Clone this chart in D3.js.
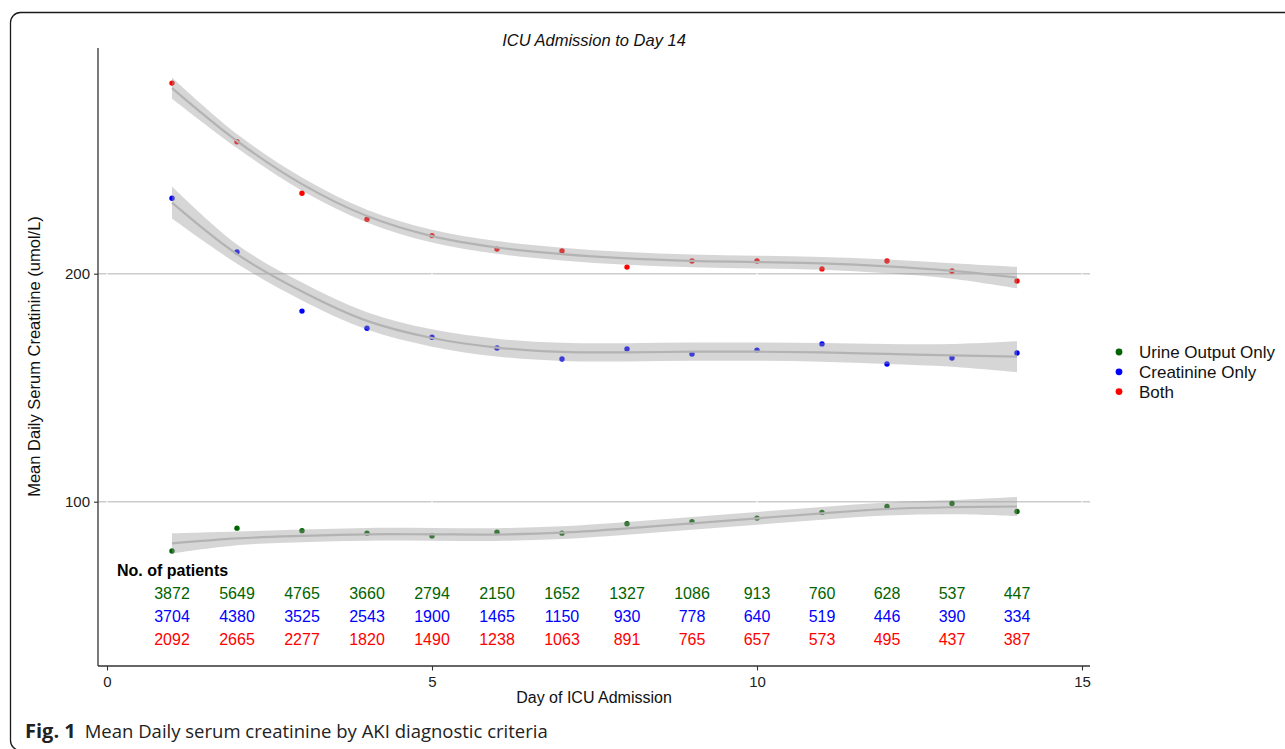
<!DOCTYPE html>
<html>
<head>
<meta charset="utf-8">
<script src="https://cdn.jsdelivr.net/npm/d3@7"></script>
<style>
  body { margin: 0; background: #fff; }
  svg { display: block; }
</style>
</head>
<body>
<div id="chart"></div>
<script>
const width = 1285,
  height = 749;

// DATA
const days = [1, 2, 3, 4, 5, 6, 7, 8, 9, 10, 11, 12, 13, 14];
const groups = ["Urine Output Only", "Creatinine Only", "Both"];
const colors = ["#006400", "#0000ff", "#ff0000"];

// mean daily serum creatinine
const urineMeans = [78.4, 88.4, 87.3, 86.2, 85.0, 86.6, 86.2, 90.3, 91.2, 92.8, 95.3, 97.9, 99.2, 95.7];
const creatMeans = [233.1, 209.5, 183.6, 176.1, 172.1, 167.4, 162.6, 167.0, 164.8, 166.5, 169.2, 160.4, 163.0, 165.2];
const bothMeans  = [283.6, 257.9, 235.3, 223.9, 216.7, 210.8, 210.0, 202.9, 205.6, 205.6, 202.1, 205.6, 201.2, 196.8];

// loess fit and half width of the ribbon
const urineFit = [81.7, 83.9, 85.0, 85.7, 85.7, 85.6, 86.4, 88.3, 90.5, 92.7, 94.9, 96.8, 97.6, 97.9];
const creatFit = [231.2, 208.6, 192.2, 179.3, 171.8, 167.6, 165.7, 165.5, 165.8, 165.8, 165.5, 164.8, 164.2, 163.6];
const bothFit  = [281.4, 258.2, 239.3, 225.3, 216.5, 211.5, 208.6, 206.7, 205.6, 205.1, 204.5, 203.2, 201.2, 198.3];
const urineSe = [4.4, 3.0, 2.8, 2.8, 2.8, 2.8, 2.8, 2.8, 2.8, 2.8, 2.8, 2.9, 3.1, 4.2];
const creatSe = [7.0, 4.2, 3.9, 3.8, 3.8, 3.9, 4.0, 4.0, 4.0, 4.0, 4.1, 4.4, 5.0, 6.8];
const bothSe  = [4.7, 3.1, 2.9, 2.8, 2.8, 2.8, 2.8, 2.8, 2.8, 2.8, 2.8, 3.0, 3.4, 4.7];

// no. of patients table
const urineN = [3872, 5649, 4765, 3660, 2794, 2150, 1652, 1327, 1086, 913, 760, 628, 537, 447];
const creatN = [3704, 4380, 3525, 2543, 1900, 1465, 1150, 930, 778, 640, 519, 446, 390, 334];
const bothN  = [2092, 2665, 2277, 1820, 1490, 1238, 1063, 891, 765, 657, 573, 495, 437, 387];

const xTicks = [0, 5, 10, 15];
const yTicks = [100, 200];

const series = [
  { name: groups[0], color: colors[0], mean: urineMeans, fit: urineFit, se: urineSe, n: urineN },
  { name: groups[1], color: colors[1], mean: creatMeans, fit: creatFit, se: creatSe, n: creatN },
  { name: groups[2], color: colors[2], mean: bothMeans, fit: bothFit, se: bothSe, n: bothN }
];

const panel = { left: 98, right: 1090, top: 48, bottom: 666 };
const font = "'Liberation Sans', Arial, Helvetica, sans-serif";

const svg = d3.select("#chart").append("svg")
  .attr("width", width)
  .attr("height", height);

// SCALES
const x = d3.scaleLinear().domain([0, 15]).range([107, 1082]);
const y = d3.scaleLinear().domain([100, 200]).range([501.7, 273.7]);

// outer frame (bottom edge sits just off the picture)
svg.append("rect")
  .attr("x", 10.5).attr("y", 12.5)
  .attr("width", 1400).attr("height", 738)
  .attr("rx", 10).attr("ry", 10)
  .attr("fill", "none")
  .attr("stroke", "#1a1a1a")
  .attr("stroke-width", 1.3);

// grid
svg.append("g").selectAll("line")
  .data(yTicks)
  .join("line")
  .attr("x1", panel.left).attr("x2", panel.right)
  .attr("y1", d => y(d)).attr("y2", d => y(d))
  .attr("stroke", "#cccccc")
  .attr("stroke-width", 1.5);
svg.append("g").selectAll("line")
  .data(xTicks)
  .join("line")
  .attr("x1", d => x(d)).attr("x2", d => x(d))
  .attr("y1", panel.top).attr("y2", panel.bottom)
  .attr("stroke", "#ffffff")
  .attr("stroke-width", 1);

// points
series.forEach(s => {
  svg.append("g").selectAll("circle")
    .data(days)
    .join("circle")
    .attr("cx", d => x(d))
    .attr("cy", (d, i) => y(s.mean[i]))
    .attr("r", 2.7)
    .attr("fill", s.color);
});

// smooth ribbons + lines
const band = d3.area()
  .x(d => x(d.day))
  .y0(d => y(d.fit - d.se))
  .y1(d => y(d.fit + d.se))
  .curve(d3.curveCatmullRom);
const fitLine = d3.line()
  .x(d => x(d.day))
  .y(d => y(d.fit))
  .curve(d3.curveCatmullRom);

series.forEach(s => {
  const pts = days.map((d, i) => ({ day: d, fit: s.fit[i], se: s.se[i] }));
  svg.append("path")
    .attr("d", band(pts))
    .attr("fill", "#999999")
    .attr("fill-opacity", 0.4);
  svg.append("path")
    .attr("d", fitLine(pts))
    .attr("fill", "none")
    .attr("stroke", "#b3b3b3")
    .attr("stroke-width", 2.2);
});

// AXES
const xAxis = svg.append("g")
  .attr("transform", `translate(0,${panel.bottom})`)
  .call(d3.axisBottom(x).tickValues(xTicks).tickSize(4.5).tickPadding(6));
const yAxis = svg.append("g")
  .attr("transform", `translate(${panel.left},0)`)
  .call(d3.axisLeft(y).tickValues(yTicks).tickSize(4).tickPadding(4));
[xAxis, yAxis].forEach(a => {
  a.attr("font-family", font);
  a.select(".domain").remove();
  a.selectAll("line").attr("stroke", "#333333").attr("stroke-width", 1.1);
  a.selectAll("text")
    .attr("fill", "#222")
    .style("font-family", font)
    .style("font-size", "15px");
});

svg.append("line")
  .attr("x1", panel.left).attr("x2", panel.left)
  .attr("y1", panel.top).attr("y2", panel.bottom)
  .attr("stroke", "#333").attr("stroke-width", 1.3);
svg.append("line")
  .attr("x1", panel.left).attr("x2", panel.right)
  .attr("y1", panel.bottom).attr("y2", panel.bottom)
  .attr("stroke", "#333").attr("stroke-width", 1.3);

// titles
svg.append("text")
  .attr("x", 594).attr("y", 46)
  .attr("text-anchor", "middle")
  .style("font-family", font)
  .style("font-style", "italic")
  .style("font-size", "16.5px")
  .attr("fill", "#111")
  .text("ICU Admission to Day 14");

svg.append("text")
  .attr("x", 594).attr("y", 703)
  .attr("text-anchor", "middle")
  .style("font-family", font)
  .style("font-size", "16px")
  .attr("fill", "#111")
  .text("Day of ICU Admission");

svg.append("text")
  .attr("transform", "translate(40,356.5) rotate(-90)")
  .attr("text-anchor", "middle")
  .style("font-family", font)
  .style("font-size", "16.5px")
  .attr("fill", "#111")
  .text("Mean Daily Serum Creatinine (umol/L)");

// patient numbers
svg.append("text")
  .attr("x", 117).attr("y", 576)
  .style("font-family", font)
  .style("font-weight", "bold")
  .style("font-size", "16px")
  .attr("fill", "#000")
  .text("No. of patients");

series.forEach((s, k) => {
  svg.append("g").selectAll("text")
    .data(days)
    .join("text")
    .attr("x", d => x(d))
    .attr("y", 599 + k * 23)
    .attr("text-anchor", "middle")
    .style("font-family", font)
    .style("font-size", "16px")
    .attr("fill", s.color)
    .text((d, i) => s.n[i]);
});

// LEGEND
const legend = svg.append("g").attr("transform", "translate(1119,352)");
legend.selectAll("circle")
  .data(series)
  .join("circle")
  .attr("cx", 0)
  .attr("cy", (d, i) => i * 19.8)
  .attr("r", 3.4)
  .attr("fill", d => d.color);
legend.selectAll("text")
  .data(series)
  .join("text")
  .attr("x", 20)
  .attr("y", (d, i) => i * 19.8 + 6)
  .style("font-family", font)
  .style("font-size", "17px")
  .attr("fill", "#111")
  .text(d => d.name);

// caption
const cap = svg.append("text")
  .attr("x", 25).attr("y", 738)
  .style("font-family", "'Open Sans', 'Noto Sans', sans-serif")
  .style("font-size", "18.5px")
  .attr("fill", "#222");
cap.append("tspan").style("font-weight", "bold").style("font-size", "20px").text("Fig. 1");
cap.append("tspan").attr("dx", 9).text("Mean Daily serum creatinine by AKI diagnostic criteria");
</script>
</body>
</html>
